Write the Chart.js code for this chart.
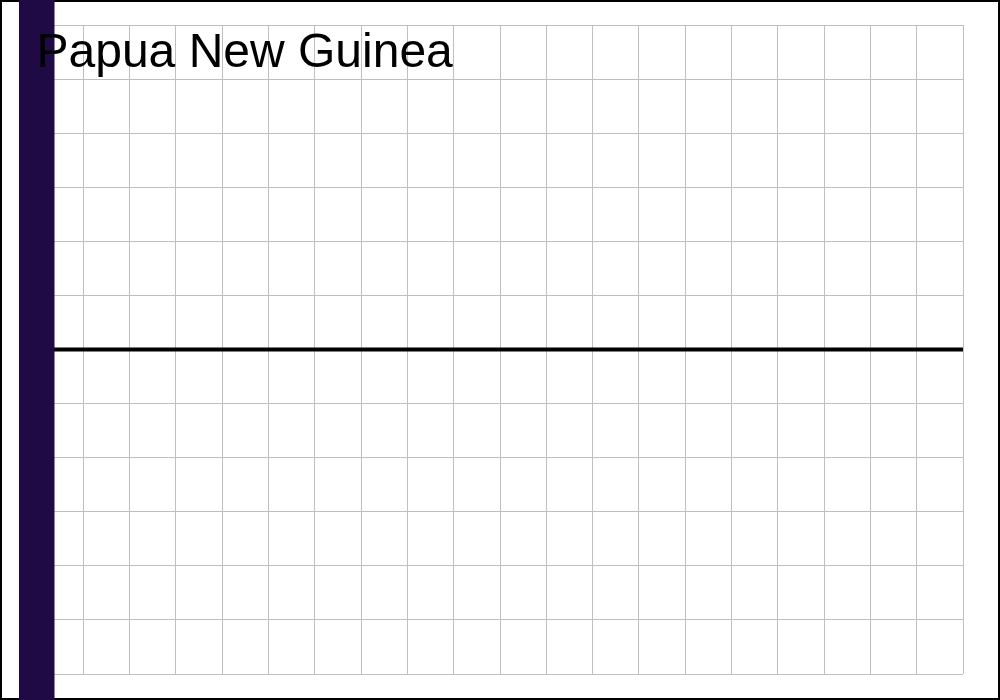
<!DOCTYPE html>
<html>
<head>
<meta charset="utf-8">
<script src="https://cdn.jsdelivr.net/npm/chart.js@4/dist/chart.umd.min.js"></script>
<style>
html,body{margin:0;padding:0;background:#fff;}
canvas{display:block;}
</style>
</head>
<body>
<canvas id="c" width="1000" height="700"></canvas>
<script>
const titleText = "Papua New Guinea";
const xValues = [0,1,2,3,4,5,6,7,8,9,10,11,12,13,14,15,16,17,18,19,20];
const yValues = [0,0,0,0,0,0,0,0,0,0,0,0,0,0,0,0,0,0,0,0,0];
const yMin = -6, yMax = 6;

const points = xValues.map((x, i) => ({x: x, y: yValues[i]}));

const decor = {
  id: 'decor',
  beforeDraw(chart) {
    const ctx = chart.ctx;
    ctx.save();
    ctx.fillStyle = '#ffffff';
    ctx.fillRect(0, 0, chart.width, chart.height);
    ctx.restore();
  },
  afterDatasetsDraw(chart) {
    const ctx = chart.ctx;
    const a = chart.chartArea;
    ctx.save();
    ctx.strokeStyle = '#000000';
    ctx.lineWidth = 2;
    ctx.strokeRect(1, 1, chart.width - 2, chart.height - 2);
    ctx.fillStyle = '#1f0a45';
    ctx.fillRect(a.left - 18, 0, 35.5, chart.height);
    ctx.restore();
  },
  afterDraw(chart) {
    const ctx = chart.ctx;
    const a = chart.chartArea;
    ctx.save();
    ctx.fillStyle = '#000000';
    ctx.font = '48px "Liberation Sans", Arial, sans-serif';
    ctx.textAlign = 'left';
    ctx.textBaseline = 'alphabetic';
    ctx.fillText(titleText, a.left - 0.5, 67);
    ctx.restore();
  }
};

new Chart(document.getElementById('c'), {
  type: 'line',
  data: {
    datasets: [{
      data: points,
      borderColor: '#000000',
      borderWidth: 4,
      borderCapStyle: 'round',
      pointRadius: 0,
      fill: false,
      tension: 0
    }]
  },
  options: {
    responsive: false,
    animation: false,
    devicePixelRatio: 1,
    layout: {padding: {left: 37, right: 37, top: 25, bottom: 26}},
    plugins: {legend: {display: false}, tooltip: {enabled: false}, title: {display: false}},
    scales: {
      x: {
        type: 'linear', min: 0, max: 20,
        ticks: {display: false, stepSize: 1},
        grid: {color: '#bfbfbf', lineWidth: 1, drawTicks: false},
        border: {display: false}
      },
      y: {
        type: 'linear', min: yMin, max: yMax,
        ticks: {display: false, stepSize: 1},
        grid: {color: '#bfbfbf', lineWidth: 1, drawTicks: false},
        border: {display: false}
      }
    }
  },
  plugins: [decor]
});
</script>
</body>
</html>
